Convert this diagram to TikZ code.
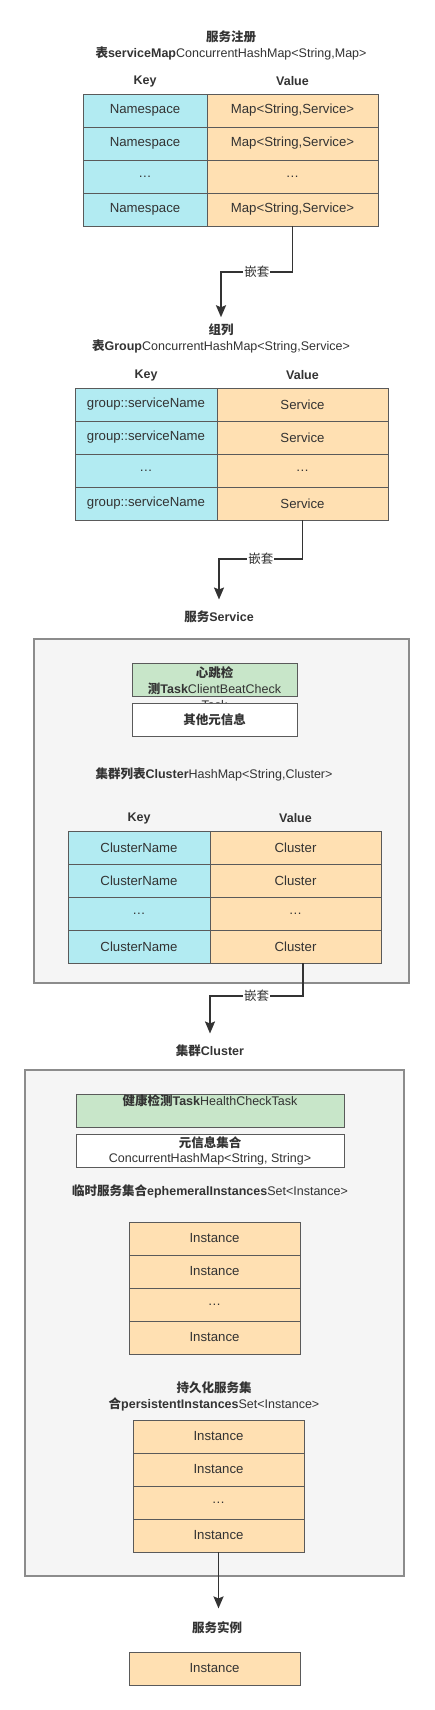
\documentclass[tikz,border=0pt]{standalone}
\usepackage{fontspec}
\setmainfont{Liberation Sans}
\newfontfamily\zh{Noto Sans CJK SC}
\usetikzlibrary{arrows.meta}
\definecolor{keyblue}{HTML}{B2EBF2}
\definecolor{valorange}{HTML}{FFE0B2}
\definecolor{taskgreen}{HTML}{C8E6C9}
\definecolor{panelgray}{HTML}{F5F5F5}
\definecolor{cellline}{HTML}{5A5A5A}
\definecolor{panelline}{HTML}{8C8C8C}
\definecolor{txtgray}{HTML}{333333}
\definecolor{linegray}{HTML}{333333}
\begin{document}
\begin{tikzpicture}[
    x=1pt, y=-1pt,
    >={Stealth[length=12pt,width=10pt,inset=2pt]},
    every node/.style={font=\fontsize{12.5}{16}\selectfont, text=txtgray, align=center},
    keycell/.style={draw=cellline, fill=keyblue, minimum width=#1, minimum height=33pt, inner sep=0pt, font=\fontsize{13.2}{16}\selectfont},
    valcell/.style={draw=cellline, fill=valorange, minimum width=#1, minimum height=33pt, inner sep=0pt, font=\fontsize{13.2}{16}\selectfont},
    panel/.style={draw=panelline, line width=1.2pt, fill=panelgray},
    taskbox/.style={draw=cellline, fill=taskgreen, minimum height=33pt, inner sep=0pt},
    infobox/.style={draw=cellline, fill=white, minimum height=33pt, inner sep=0pt},
    hd/.style={font=\fontsize{12.5}{16}\selectfont\bfseries},
    link/.style={draw=linegray, line width=1.8pt, ->},
    lbl/.style={fill=white, inner sep=1pt, font=\zh\fontsize{12.5}{16}\selectfont}
    ]
    \useasboundingbox (0,0) rectangle (434,1710);

    % serviceMap
    \node (regTitle) at (231,45) {{\zh\bfseries 服务注册}\\{\zh\bfseries 表}\textbf{serviceMap}ConcurrentHashMap<String,Map>};
    \node[hd] (regKeyHd) at (145,81) {Key};
    \node[hd] (regValHd) at (292.5,81) {Value};
    \foreach \k/\v [count=\i] in {Namespace/{Map<String,Service>}, Namespace/{Map<String,Service>}, \ldots/\ldots, Namespace/{Map<String,Service>}} {
        \node[keycell=124pt] (regK\i) at (145,{77.5+33*\i}) {\k};
        \node[valcell=171pt] (regV\i) at (292.5,{77.5+33*\i}) {\v};
    }

    % group map
    \node (grpTitle) at (221,338.5) {{\zh\bfseries 组列}\\{\zh\bfseries 表}\textbf{Group}ConcurrentHashMap<String,Service>};
    \node[hd] (grpKeyHd) at (146,375) {Key};
    \node[hd] (grpValHd) at (302.5,375) {Value};
    \foreach \k/\v [count=\i] in {group::serviceName/Service, group::serviceName/Service, \ldots/\ldots, group::serviceName/Service} {
        \node[keycell=142pt] (grpK\i) at (146,{371.5+33*\i}) {\k};
        \node[valcell=171pt] (grpV\i) at (302.5,{371.5+33*\i}) {\v};
    }
    \draw[link] (regV4.south) -- ++(0,46) -| node[lbl,pos=.25]{嵌套} ([yshift=3pt]grpTitle.north);

    % service
    \node[hd] (svcTitle) at (219,617) {{\zh 服务}Service};
    \draw[link] (grpV4.south) -- ++(0,39) -| node[lbl,pos=.25]{嵌套} ([yshift=8pt]svcTitle.north);
    \node[panel, minimum width=375pt, minimum height=344pt] (svcBox) at (221.5,811) {};
    \node[taskbox, minimum width=165pt] (beatBox) at (214.5,679.5) {};
    \node (beatText) at (214.5,688) {{\zh\bfseries 心跳检}\\{\zh\bfseries 测}\textbf{Task}ClientBeatCheck\\Task};
    \node[infobox, minimum width=165pt] (metaBox) at (214.5,719.5) {{\zh\bfseries 其他元信息}};
    \node (cluMapTitle) at (214,774) {{\zh\bfseries 集群列表}\textbf{Cluster}HashMap<String,Cluster>};
    \node[hd] (cluKeyHd) at (139,818) {Key};
    \node[hd] (cluValHd) at (295.5,818) {Value};
    \foreach \k/\v [count=\i] in {ClusterName/Cluster, ClusterName/Cluster, \ldots/\ldots, ClusterName/Cluster} {
        \node[keycell=142pt] (cluK\i) at (139,{814.5+33*\i}) {\k};
        \node[valcell=171pt] (cluV\i) at (295.5,{814.5+33*\i}) {\v};
    }

    % cluster
    \node[hd] (cluTitle) at (210,1051) {{\zh 集群}Cluster};
    \draw[link] ([xshift=7.5pt]cluV4.south) -- ++(0,33) -| node[lbl,pos=.25]{嵌套} ([yshift=8pt]cluTitle.north);
    \node[panel, minimum width=379pt, minimum height=506pt] (cluBox) at (214.5,1323) {};
    \node[taskbox, minimum width=268pt] (healthBox) at (210,1110.5) {{\zh\bfseries 健康检测}\textbf{Task}HealthCheckTask\\\strut};
    \node[infobox, minimum width=268pt] (cluMetaBox) at (210,1151) {{\zh\bfseries 元信息集合}\\[-1pt]ConcurrentHashMap<String, String>};
    \node (ephTitle) at (210,1191) {{\zh\bfseries 临时服务集合}\textbf{ephemeralInstances}Set<Instance>};
    \foreach \v [count=\i] in {Instance, Instance, \ldots, Instance} {
        \node[valcell=171pt] (ephI\i) at (214.5,{1205.5+33*\i}) {\v};
    }
    \node (perTitle) at (214,1396) {{\zh\bfseries 持久化服务集}\\{\zh\bfseries 合}\textbf{persistentInstances}Set<Instance>};
    \foreach \v [count=\i] in {Instance, Instance, \ldots, Instance} {
        \node[valcell=171pt] (perI\i) at (218.5,{1403.5+33*\i}) {\v};
    }

    % instance
    \node[hd] (instTitle) at (217,1628) {{\zh 服务实例}};
    \draw[link] (perI4.south) -- ([yshift=10pt]perI4.south |- instTitle.north);
    \node[valcell=171pt] (instBox) at (214.5,1668.5) {Instance};
\end{tikzpicture}
\end{document}
